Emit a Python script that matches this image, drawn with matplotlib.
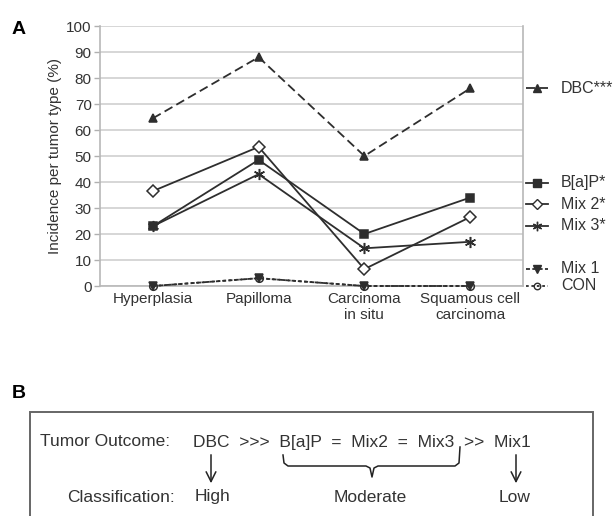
import matplotlib
matplotlib.use("Agg")
import matplotlib.pyplot as plt
from matplotlib.lines import Line2D
from matplotlib.patches import Rectangle, FancyArrowPatch

plt.rcParams['font.family'] = ['Liberation Sans', 'DejaVu Sans']

categories = ["Hyperplasia", "Papilloma", "Carcinoma\nin situ", "Squamous cell\ncarcinoma"]
dbc = [64.5, 88, 50, 76]
bap = [23, 48.5, 20, 34]
mix2 = [36.5, 53.5, 6.5, 26.5]
mix3 = [23, 43, 14.5, 17]
mix1 = [0, 3, 0, 0]
con = [0, 3, 0, 0]

names = ["DBC***", "B[a]P*", "Mix 2*", "Mix 3*", "Mix 1", "CON"]

LC = "#2e2e2e"
GRID = "#cfcfcf"

# style per series: (values, linestyle, marker, markersize, facecolor)
series = [
    (dbc, (0, (5, 2.5)), "^", 6, LC),
    (bap, "-", "s", 6, LC),
    (mix2, "-", "D", 6.5, "white"),
    (mix3, "-", (6, 2, 0), 8, LC),
    (mix1, (0, (2.2, 1.3)), "v", 6, LC),
    (con, (0, (1.5, 1.5)), "o", 5.5, "none"),
]
legend_y = [76, 39.7, 31.5, 23.2, 6.6, 0]

W, H = 616, 516
fig = plt.figure(figsize=(W / 100, H / 100), dpi=100)

def fx(px):
    return px / W

def fy(py):
    return 1 - py / H

ax = fig.add_axes([fx(100), fy(286), fx(523) - fx(100), fy(26) - fy(286)])
x = list(range(len(categories)))

for vals, ls, mk, ms, fc in series[::-1]:
    ax.plot(x, vals, color=LC, linestyle=ls, linewidth=1.3, marker=mk,
            markersize=ms, markerfacecolor=fc, markeredgecolor=LC,
            markeredgewidth=1.1, clip_on=False, zorder=3)

ax.set_xlim(-0.5, 3.5)
ax.set_ylim(0, 100)
ax.set_yticks(range(0, 101, 10))
ax.set_xticks(x)
ax.set_xticklabels(categories, fontsize=11, color="#333333", linespacing=1.25)
ax.tick_params(axis="x", length=0, pad=4)
ax.tick_params(axis="y", length=4, width=1, color="#b0b0b0", pad=2,
               labelsize=11, labelcolor="#333333")
ax.grid(axis="y", color=GRID, linewidth=1.2)
ax.set_axisbelow(True)
for s in ["left", "bottom", "right"]:
    ax.spines[s].set_color("#b8b8b8")
    ax.spines[s].set_linewidth(1.2)
ax.spines["top"].set_visible(False)
ax.set_ylabel("Incidence per tumor type (%)", fontsize=11, color="#333333", labelpad=3)

# right-hand legend keys
ytr = ax.get_yaxis_transform()
for (vals, ls, mk, ms, fc), nm, ly in zip(series, names, legend_y):
    ax.add_line(Line2D([1.008, 1.058], [ly, ly], transform=ytr, color=LC,
                       linestyle=ls, linewidth=1.3, clip_on=False))
    ax.add_line(Line2D([1.033], [ly], transform=ytr, marker=mk, markersize=ms * 0.85,
                       markerfacecolor=fc, markeredgecolor=LC, markeredgewidth=1.0,
                       clip_on=False))
    ax.text(1.09, ly, nm, transform=ytr, fontsize=11.5, color="#333333",
            va="center", ha="left", clip_on=False)

fig.text(fx(12), fy(29), "A", fontsize=14, fontweight="bold", va="center", ha="left")
fig.text(fx(12), fy(393), "B", fontsize=14, fontweight="bold", va="center", ha="left")

# panel B box
fig.add_artist(Rectangle((fx(30), fy(530)), fx(593) - fx(30), fy(412) - fy(530),
                         transform=fig.transFigure, facecolor="none",
                         edgecolor="#666666", linewidth=1.4))

tc = "#333333"
fs = 12.5
y1, y2 = 442, 497
fig.text(fx(40), fy(y1), "Tumor Outcome:", fontsize=fs, color=tc, va="center", ha="left")
fig.text(fx(175), fy(y2), "Classification:", fontsize=fs, color=tc, va="center", ha="right")
fig.text(fx(193), fy(y1), "DBC  >>>  B[a]P  =  Mix2  =  Mix3  >>  Mix1",
         fontsize=fs, color=tc, va="center", ha="left")
fig.text(fx(212), fy(y2), "High", fontsize=fs, color=tc, va="center", ha="center")
fig.text(fx(370), fy(y2), "Moderate", fontsize=fs, color=tc, va="center", ha="center")
fig.text(fx(515), fy(y2), "Low", fontsize=fs, color=tc, va="center", ha="center")

for ax_x in [211, 516]:
    fig.add_artist(FancyArrowPatch((fx(ax_x), fy(452)), (fx(ax_x), fy(486)),
                                   transform=fig.transFigure,
                                   arrowstyle="->,head_length=7,head_width=3.5",
                                   color="#222222", linewidth=1.1))

# brace under B[a]P ... Mix3
bx = [283, 284, 288, 366, 370, 372, 374, 378, 455, 459, 460]
by = [455, 463, 466, 466, 468, 477, 468, 466, 466, 463, 447]
fig.add_artist(Line2D([fx(v) for v in bx], [fy(v) for v in by],
                      transform=fig.transFigure, color="#222222", linewidth=1.1))

fig.savefig("out.png", dpi=100)
